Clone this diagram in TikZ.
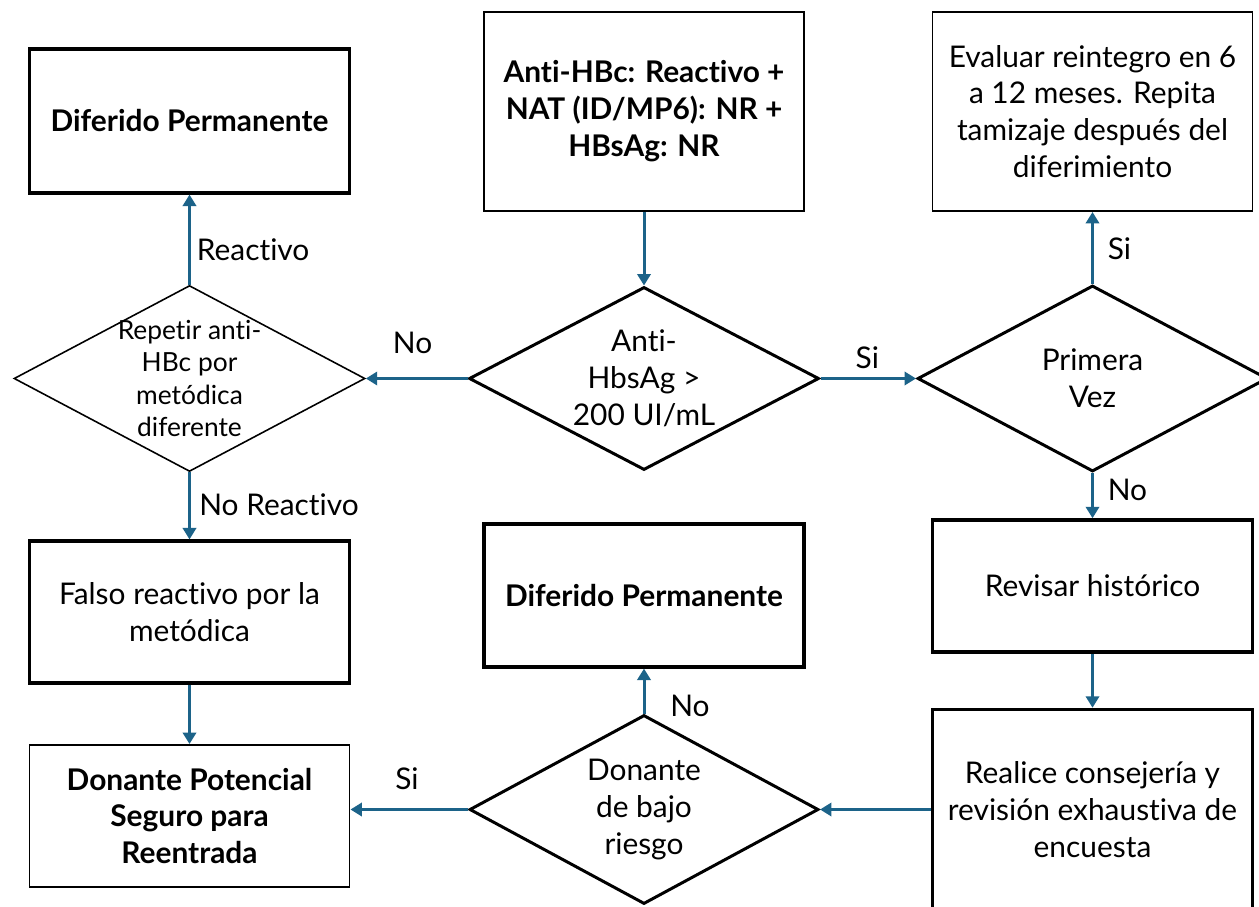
\documentclass[tikz,border=0pt]{standalone}
\usepackage{fontspec}
\setmainfont{Lato}[RawFeature={-liga;-clig;-calt;-dlig}]
\usetikzlibrary{arrows.meta,shapes.geometric}
\definecolor{HbTeal}{RGB}{28,99,137}
\tikzset{
  hb/box/.style={
    draw=black,
    line width=1.8pt,
    fill=white,
    align=center,
    text=black,
    minimum width=6.4cm,
    inner sep=4pt,
    font=\fontsize{17}{21}\selectfont
  },
  hb/thinbox/.style={
    hb/box,
    line width=1.1pt
  },
  hb/bold/.style={
    font=\fontsize{17}{21}\selectfont\bfseries
  },
  hb/decision/.style={
    diamond,
    draw=black,
    line width=1.7pt,
    fill=white,
    inner sep=0pt,
    minimum width=7cm,
    minimum height=3.72cm
  },
  hb/thindecision/.style={
    hb/decision,
    line width=0.9pt
  },
  hb/dtext/.style={align=center, text=black, font=\fontsize{17}{21}\selectfont},
  hb/smalldtext/.style={align=center, text=black, font=\fontsize{15}{18.5}\selectfont},
  hb/arrow/.style={-{Triangle[length=6.5pt,width=7.5pt]}, line width=1.7pt, draw=HbTeal},
  hb/label/.style={text=black, font=\fontsize{17}{21}\selectfont}
}
\begin{document}
\begin{tikzpicture}[x=1cm,y=1cm]
  \useasboundingbox (0,0) rectangle (25.18,18.12);
  % top row
  \node[hb/box,hb/bold,minimum height=2.88cm] (dpA) at (3.79,15.70) {Diferido Permanente};
  \node[hb/thinbox,hb/bold,minimum height=3.98cm] (antihbc) at (12.88,15.89) {Anti-HBc: Reactivo +\\NAT (ID/MP6): NR +\\HBsAg: NR};
  \node[hb/thinbox,minimum height=3.98cm] (evaluar) at (21.85,15.89) {Evaluar reintegro en 6\\a 12 meses. Repita\\tamizaje después del\\diferimiento};
  % decisions
  \node[hb/thindecision,minimum width=7.02cm,
    label={[hb/smalldtext]center:Repetir anti-\\HBc por\\metódica\\diferente}] (repetir) at (3.79,10.55) {};
  \node[hb/decision,minimum height=3.66cm,
    label={[hb/dtext]center:Anti-\\HbsAg >\\200 UI/mL}] (antihbs) at (12.88,10.55) {};
  \node[hb/decision,
    label={[hb/dtext]center:Primera\\Vez}] (primera) at (21.85,10.55) {};
  % lower rows
  \node[hb/box,minimum height=2.84cm] (falso) at (3.79,5.88) {Falso reactivo por la\\metódica};
  \node[hb/box,hb/bold,minimum height=2.86cm] (dpB) at (12.88,6.21) {Diferido Permanente};
  \node[hb/box,line width=2pt,minimum height=2.64cm] (revisar) at (21.85,6.40) {Revisar histórico};
  \node[hb/thinbox,hb/bold,minimum height=2.84cm] (donpot) at (3.79,1.80) {Donante Potencial\\Seguro para\\Reentrada};
  \node[hb/decision,minimum width=6.98cm,minimum height=3.78cm,
    label={[hb/dtext]center:Donante\\de bajo\\riesgo}] (donante) at (12.88,1.93) {};
  \node[hb/box,line width=2pt,minimum height=4cm] (realice) at (21.85,1.93) {Realice consejería y\\revisión exhaustiva de\\encuesta};
  % connectors
  \draw[hb/arrow] (antihbc.south) -- (antihbs.north);
  \draw[hb/arrow] (antihbs.west) -- node[hb/label,pos=0.54,above=0.34cm] {No} (repetir.east);
  \draw[hb/arrow] (antihbs.east) -- node[hb/label,pos=0.49,above=0.05cm] {Si} (primera.west);
  \draw[hb/arrow] (repetir.north) -- node[hb/label,pos=0.39,right=0cm] {Reactivo} (dpA.south);
  \draw[hb/arrow] (repetir.south) -- node[hb/label,pos=0.48,right=0.05cm] {No Reactivo} (falso.north);
  \draw[hb/arrow] (falso.south) -- (donpot.north);
  \draw[hb/arrow] (primera.north) -- node[hb/label,pos=0.49,right=0.16cm] {Si} (evaluar.south);
  \draw[hb/arrow] (primera.south) -- node[hb/label,pos=0.38,right=0.16cm] {No} (revisar.north);
  \draw[hb/arrow] (revisar.south) -- (realice.north);
  \draw[hb/arrow] (realice.west) -- (donante.east);
  \draw[hb/arrow] (donante.west) -- node[hb/label,pos=0.52,above=0.24cm] {Si} (donante.west -| donpot.east);
  \draw[hb/arrow] (donante.north) -- node[hb/label,pos=0.17,right=0.38cm] {No} (dpB.south);
\end{tikzpicture}
\end{document}
